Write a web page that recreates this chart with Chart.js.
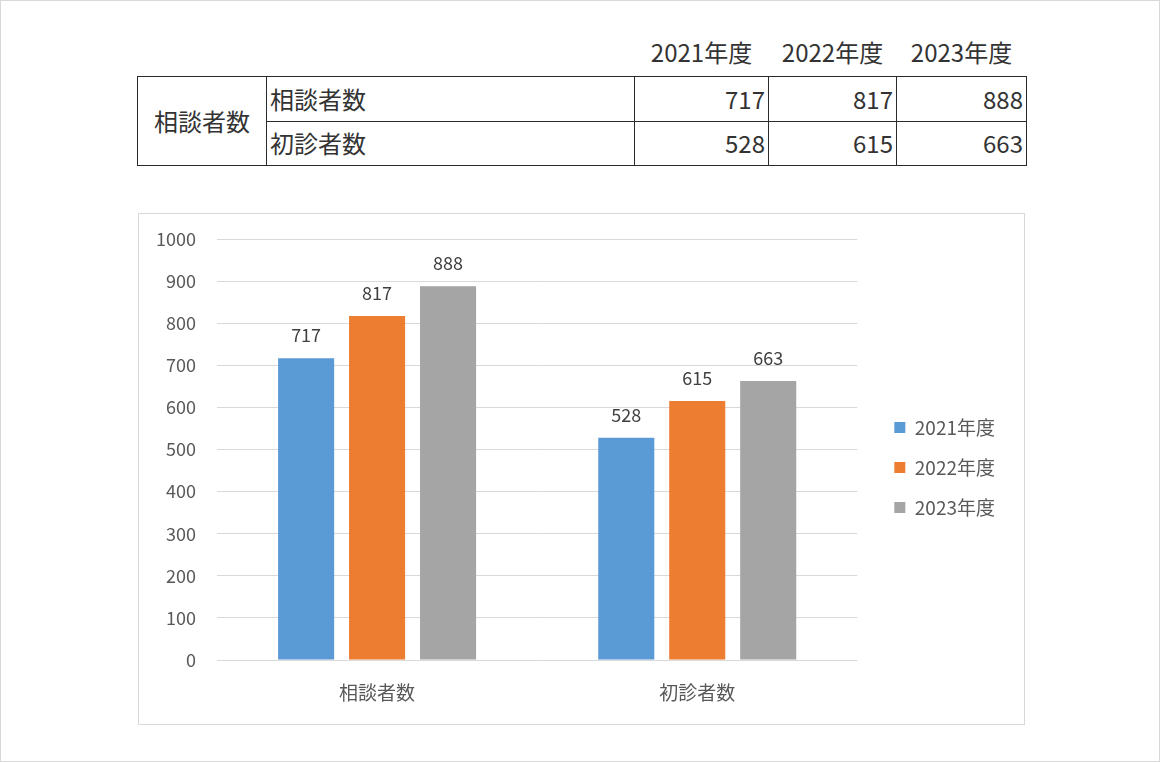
<!DOCTYPE html>
<html>
<head>
<meta charset="utf-8">
<script src="https://cdn.jsdelivr.net/npm/chart.js@4"></script>
<style>
  html, body { margin: 0; padding: 0; background: #fff; }
  #page {
    position: relative; width: 1158px; height: 760px;
    border: 1px solid #d9d9d9; background: #fff;
    font-family: "Noto Sans CJK JP", sans-serif;
  }
  #tbl {
    position: absolute; left: 136px; top: 28px;
    border-collapse: collapse; color: #333; font-size: 24px;
  }
  #tbl th { font-weight: normal; height: 44px; padding: 0 0 3px 0; text-align: center; }
  #tbl td { border: 1.5px solid #2b2b2b; height: 43.5px; padding: 0 3px; line-height: 1; }
  #tbl td.num { text-align: right; }
  #tbl td.head { text-align: center; }
  #box {
    position: absolute; left: 137px; top: 212px; width: 885px; height: 510px;
    border: 1px solid #d9d9d9;
  }
</style>
</head>
<body>
<div id="page">
  <table id="tbl"></table>
  <div id="box"><canvas id="chart" width="885" height="510"></canvas></div>
</div>
<script>
const groupLabel = '相談者数';
const categories = ['相談者数', '初診者数'];
const years = ['2021年度', '2022年度', '2023年度'];
const values2021 = [717, 528];
const values2022 = [817, 615];
const values2023 = [888, 663];
const colors = ['#5B9BD5', '#ED7D31', '#A5A5A5'];
const yTicks = [0, 100, 200, 300, 400, 500, 600, 700, 800, 900, 1000];

const seriesValues = [values2021, values2022, values2023];

// table above the chart
const tbl = document.getElementById('tbl');
const colWidths = [129, 368, 134, 128, 130];
let html = '<colgroup>' + colWidths.map(w => '<col style="width:' + w + 'px">').join('') + '</colgroup>';
html += '<tr><th></th><th></th>' + years.map(y => '<th>' + y + '</th>').join('') + '</tr>';
categories.forEach((cat, i) => {
    html += '<tr>';
    if (i === 0) html += '<td class="head" rowspan="' + categories.length + '">' + groupLabel + '</td>';
    html += '<td>' + cat + '</td>';
    html += seriesValues.map(s => '<td class="num">' + s[i] + '</td>').join('');
    html += '</tr>';
});
tbl.innerHTML = html;

const fontFamily = '"Noto Sans CJK JP", sans-serif';

const barLabels = {
    id: 'barLabels',
    afterDatasetsDraw(chart) {
        const ctx = chart.ctx;
        ctx.save();
        ctx.font = '18px ' + fontFamily;
        ctx.fillStyle = '#404040';
        ctx.textAlign = 'center';
        ctx.textBaseline = 'middle';
        chart.data.datasets.forEach((ds, i) => {
            chart.getDatasetMeta(i).data.forEach((el, j) => {
                ctx.fillText(ds.data[j], el.x, el.y - 23);
            });
        });
        ctx.restore();
    }
};

// nudge the legend box to sit where the Excel legend does
const legendShift = {
    id: 'legendShift',
    afterLayout(chart) {
        const lg = chart.legend;
        if (!lg) return;
        lg.left += 16; lg.right += 16;
        lg.top -= 14; lg.bottom -= 14;
    }
};

new Chart(document.getElementById('chart').getContext('2d'), {
    type: 'bar',
    data: {
        labels: categories,
        datasets: years.map((y, i) => ({
            label: y,
            data: seriesValues[i],
            backgroundColor: colors[i],
            categoryPercentage: 0.665,
            barPercentage: 0.79
        }))
    },
    options: {
        responsive: false,
        animation: false,
        layout: { padding: { top: 25, right: 35, bottom: 0, left: 0 } },
        scales: {
            x: {
                grid: { display: false, drawTicks: false },
                border: { display: false },
                ticks: { color: '#595959', font: { family: fontFamily, size: 19 }, padding: 21 },
                afterFit: scale => { scale.height = 64; }
            },
            y: {
                min: 0,
                max: 1000,
                afterBuildTicks: scale => { scale.ticks = yTicks.map(v => ({ value: v })); },
                grid: { color: '#d9d9d9', drawTicks: false },
                border: { display: false },
                ticks: {
                    color: '#595959',
                    font: { family: fontFamily, size: 18 },
                    padding: 21,
                    callback: v => String(v)
                },
                afterFit: scale => {
                    scale.width = 78;
                    scale.paddingTop = 0;
                    scale.paddingBottom = 0;
                }
            }
        },
        plugins: {
            legend: {
                position: 'right',
                labels: {
                    boxWidth: 11,
                    boxHeight: 11,
                    padding: 21,
                    color: '#595959',
                    font: { family: fontFamily, size: 19 }
                }
            },
            tooltip: { enabled: false }
        }
    },
    plugins: [barLabels, legendShift]
});
</script>
</body>
</html>
